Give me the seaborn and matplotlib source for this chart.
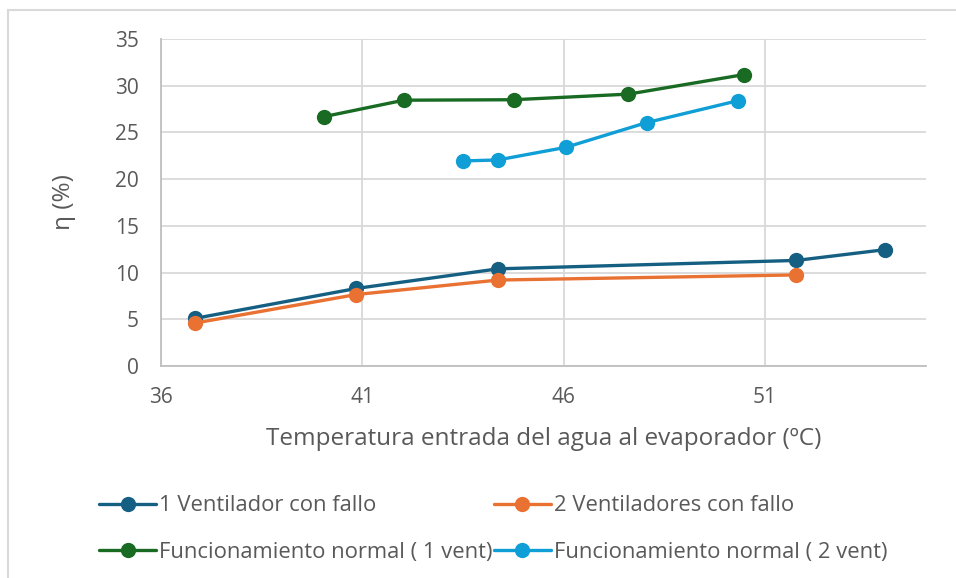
import matplotlib
matplotlib.use("Agg")
import matplotlib.pyplot as plt
import seaborn as sns
import pandas as pd

# Data
series_names = ["1 Ventilador con fallo", "2 Ventiladores con fallo",
                "Funcionamiento normal ( 1 vent)", "Funcionamiento normal ( 2 vent)"]
x_1v_fallo = [36.85, 40.85, 44.37, 51.78, 53.98]
y_1v_fallo = [5.1, 8.3, 10.4, 11.3, 12.45]
x_2v_fallo = [36.85, 40.85, 44.37, 51.78]
y_2v_fallo = [4.6, 7.65, 9.2, 9.75]
x_normal_1v = [40.06, 42.03, 44.76, 47.61, 50.49]
y_normal_1v = [26.7, 28.45, 28.5, 29.1, 31.2]
x_normal_2v = [43.49, 44.36, 46.05, 48.06, 50.33]
y_normal_2v = [21.95, 22.05, 23.4, 26.05, 28.4]
x_ticks = [36, 41, 46, 51]
y_ticks = [0, 5, 10, 15, 20, 25, 30, 35]

colors = ["#156082", "#E97132", "#196B24", "#0F9ED5"]

frames = []
for name, xs, ys in zip(series_names,
                        [x_1v_fallo, x_2v_fallo, x_normal_1v, x_normal_2v],
                        [y_1v_fallo, y_2v_fallo, y_normal_1v, y_normal_2v]):
    frames.append(pd.DataFrame({"x": xs, "y": ys, "serie": name}))
df = pd.concat(frames, ignore_index=True)

sns.set_theme(style="white")
font = ["Open Sans", "DejaVu Sans"]
plt.rcParams["font.family"] = font
text_color = "#595959"

fig = plt.figure(figsize=(9.56, 5.78), dpi=100)
ax = fig.add_axes([161/956, 1-366/578, (926-161)/956, (366-39)/578])

for name, c in zip(series_names, colors):
    sub = df[df["serie"] == name]
    sns.lineplot(data=sub, x="x", y="y", ax=ax, color=c, linewidth=2.4,
                 marker="o", markersize=11, markeredgewidth=0, label=name,
                 sort=False, estimator=None, zorder=3)

ax.set_xlim(36, 55)
ax.set_ylim(0, 35)
ax.set_xticks(x_ticks)
ax.set_yticks(y_ticks)
ax.grid(True, color="#d9d9d9", linewidth=1.3)
ax.set_axisbelow(True)
for s in ["top", "right"]:
    ax.spines[s].set_visible(False)
for s in ["left", "bottom"]:
    ax.spines[s].set_color("#bfbfbf")
    ax.spines[s].set_linewidth(1.3)
ax.tick_params(axis="both", labelsize=15, colors=text_color, length=0)
ax.tick_params(axis="x", pad=15)
ax.tick_params(axis="y", pad=16)
ax.set_xlabel("Temperatura entrada del agua al evaporador (ºC)", fontsize=17.5,
              color=text_color, labelpad=14)
ax.set_ylabel("η (%)", fontsize=17.5, color=text_color, labelpad=28)

handles, labels = ax.get_legend_handles_labels()
ax.get_legend().remove()
order = [0, 2, 1, 3]
leg = fig.legend([handles[i] for i in order], [labels[i] for i in order],
                 ncol=2, loc="center left", bbox_to_anchor=(88/956, 1-529/578),
                 frameon=False, fontsize=15.8, handlelength=2.6,
                 handletextpad=0.15, columnspacing=0.05, labelspacing=1.15,
                 borderpad=0)
for t in leg.get_texts():
    t.set_color(text_color)

# outer chart border
fig.add_artist(plt.Line2D([8/956, 8/956], [0, 1-10/578], color="#d9d9d9",
                          linewidth=1.5, transform=fig.transFigure))
fig.add_artist(plt.Line2D([8/956, 1], [1-10/578, 1-10/578], color="#d9d9d9",
                          linewidth=1.5, transform=fig.transFigure))

fig.savefig("out.png", dpi=100)
